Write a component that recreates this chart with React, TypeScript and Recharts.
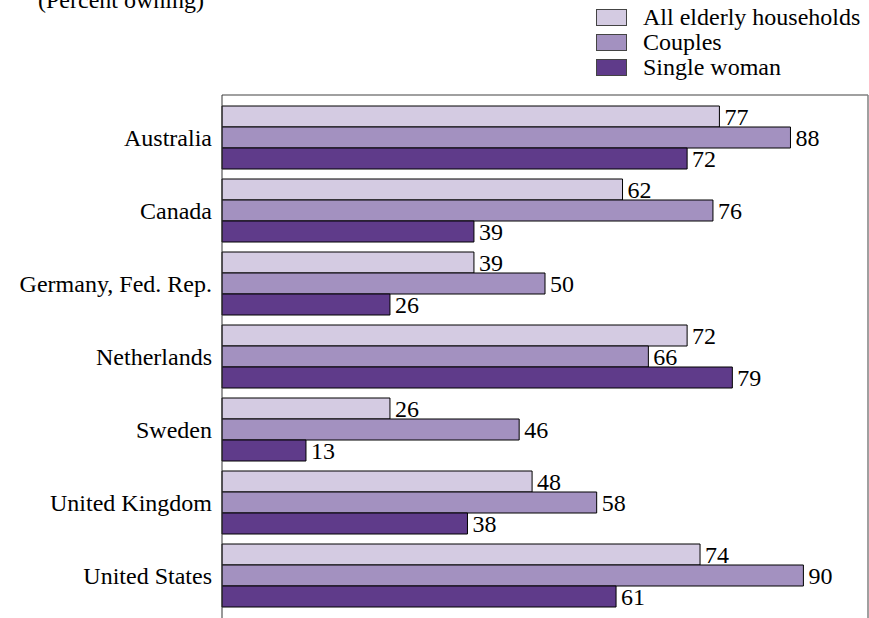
import React from 'react';
import { Bar, BarChart, LabelList, Legend, XAxis, YAxis } from 'recharts';

const countries = [
  'Australia',
  'Canada',
  'Germany, Fed. Rep.',
  'Netherlands',
  'Sweden',
  'United Kingdom',
  'United States',
];
const allElderly = [77, 62, 39, 72, 26, 48, 74];
const couples = [88, 76, 50, 66, 46, 58, 90];
const singleWoman = [72, 39, 26, 79, 13, 38, 61];

const FONT = '"Liberation Serif", "Times New Roman", serif';
const FONT_SIZE = 24;

const data = countries.map((country, i) => ({
  country,
  all: allElderly[i],
  couples: couples[i],
  single: singleWoman[i],
}));

const SwatchLegend = ({ payload }: any) => (
  <ul style={{ listStyle: 'none', margin: 0, padding: 0, fontFamily: FONT, fontSize: FONT_SIZE, lineHeight: '25px' }}>
    {payload.map((p: any) => (
      <li key={p.value} style={{ display: 'flex', alignItems: 'center', height: 25, color: '#000' }}>
        <span
          style={{
            display: 'inline-block',
            width: 29,
            height: 15,
            background: p.color,
            border: '1px solid #444',
            marginRight: 16,
          }}
        />
        {p.value}
      </li>
    ))}
  </ul>
);

export default function App() {
  return (
    <div
      style={{
        position: 'absolute',
        left: 0,
        top: 0,
        width: 869,
        height: 618,
        overflow: 'hidden',
        background: '#fff',
      }}
    >
      <div
        style={{
          position: 'absolute',
          left: 38,
          top: -13,
          fontFamily: FONT,
          fontSize: FONT_SIZE,
          color: '#000',
          whiteSpace: 'nowrap',
        }}
      >
        (Percent owning)
      </div>
      <BarChart
        width={880}
        height={640}
        data={data}
        layout="vertical"
        margin={{ top: 94, right: 11, bottom: 8, left: 0 }}
        barCategoryGap={5}
        barGap={0}
      >
        {/* top edge of the frame */}
        <XAxis
          type="number"
          orientation="top"
          domain={[0, 100]}
          height={1}
          tick={false}
          tickLine={false}
          axisLine={{ stroke: '#808080', strokeWidth: 1.5 }}
        />
        <YAxis
          type="category"
          dataKey="country"
          width={222}
          tickLine={false}
          tickSize={0}
          tickMargin={10}
          padding={{ top: 6, bottom: 20 }}
          axisLine={{ stroke: '#333', strokeWidth: 1 }}
          tick={{ fill: '#000', fontFamily: FONT, fontSize: FONT_SIZE }}
        />
        {/* right edge of the frame */}
        <YAxis
          yAxisId="frame"
          type="category"
          dataKey="country"
          orientation="right"
          width={1}
          tick={false}
          tickLine={false}
          padding={{ top: 6, bottom: 20 }}
          axisLine={{ stroke: '#808080', strokeWidth: 1.5 }}
        />
        <Legend
          layout="vertical"
          align="center"
          verticalAlign="middle"
          wrapperStyle={{ top: 5, left: 596, width: 280 }}
          content={SwatchLegend}
        />
        <Bar dataKey="all" name="All elderly households" fill="#d4cbe2" stroke="#000" strokeWidth={1} isAnimationActive={false}>
          <LabelList dataKey="all" position="right" offset={5} fill="#000" fontFamily={FONT} fontSize={FONT_SIZE} />
        </Bar>
        <Bar dataKey="couples" name="Couples" fill="#a391c0" stroke="#000" strokeWidth={1} isAnimationActive={false}>
          <LabelList dataKey="couples" position="right" offset={5} fill="#000" fontFamily={FONT} fontSize={FONT_SIZE} />
        </Bar>
        <Bar dataKey="single" name="Single woman" fill="#5f3b8a" stroke="#000" strokeWidth={1} isAnimationActive={false}>
          <LabelList dataKey="single" position="right" offset={5} fill="#000" fontFamily={FONT} fontSize={FONT_SIZE} />
        </Bar>
      </BarChart>
    </div>
  );
}
